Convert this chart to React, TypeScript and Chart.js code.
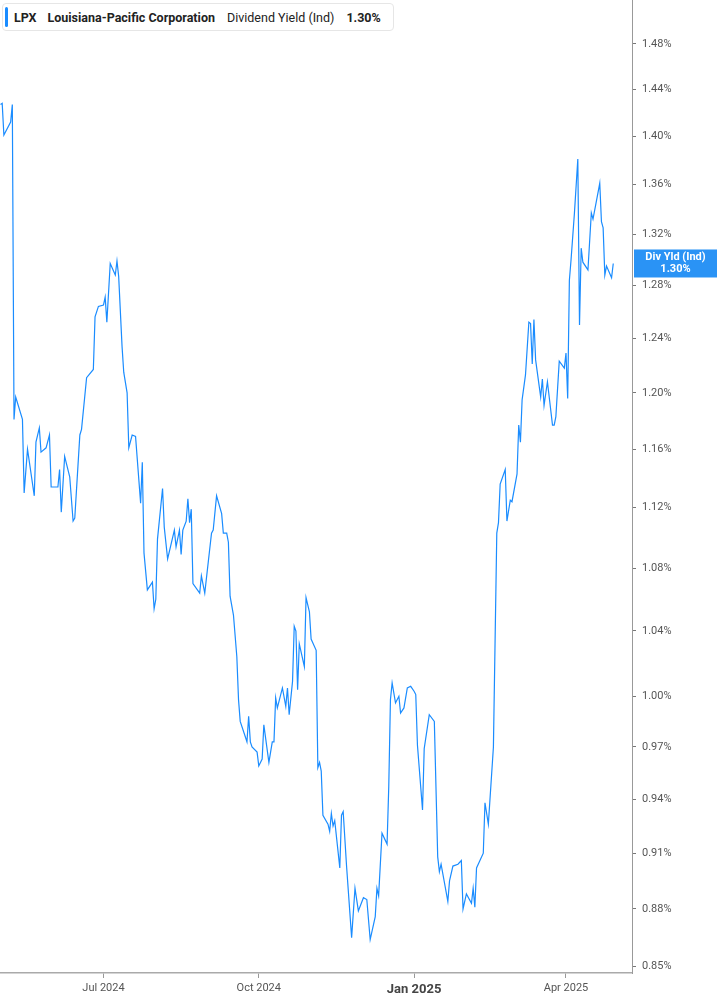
import { useEffect, useRef } from "react";
import { Chart, registerables, type Plugin } from "chart.js";

Chart.register(...registerables);

const TICKER = "LPX";
const COMPANY = "Louisiana-Pacific Corporation";
const METRIC = "Dividend Yield (Ind)";
const BADGE_LABEL = "Div Yld (Ind)";
const LINE_COLOR = "#1a8cff";

// dividend yield (%), one entry per vertex of the line
const dates = [
  "2024-05-01", "2024-05-02", "2024-05-03", "2024-05-07", "2024-05-08", "2024-05-09", "2024-05-10", "2024-05-14", "2024-05-15", "2024-05-17",
  "2024-05-21", "2024-05-22", "2024-05-24", "2024-05-25", "2024-05-28", "2024-05-30", "2024-05-31", "2024-06-04", "2024-06-05", "2024-06-06",
  "2024-06-08", "2024-06-11", "2024-06-13", "2024-06-14", "2024-06-17", "2024-06-18", "2024-06-21", "2024-06-25", "2024-06-26", "2024-06-28",
  "2024-07-01", "2024-07-02", "2024-07-03", "2024-07-05", "2024-07-08", "2024-07-09", "2024-07-10", "2024-07-12", "2024-07-13", "2024-07-15",
  "2024-07-16", "2024-07-18", "2024-07-20", "2024-07-23", "2024-07-24", "2024-07-25", "2024-07-27", "2024-07-30", "2024-07-31", "2024-08-01",
  "2024-08-02", "2024-08-05", "2024-08-06", "2024-08-08", "2024-08-12", "2024-08-13", "2024-08-15", "2024-08-16", "2024-08-17", "2024-08-19",
  "2024-08-20", "2024-08-21", "2024-08-22", "2024-08-23", "2024-08-27", "2024-08-28", "2024-08-30", "2024-09-03", "2024-09-04", "2024-09-06",
  "2024-09-09", "2024-09-10", "2024-09-12", "2024-09-13", "2024-09-14", "2024-09-16", "2024-09-18", "2024-09-19", "2024-09-20", "2024-09-24",
  "2024-09-25", "2024-09-26", "2024-09-27", "2024-09-30", "2024-10-01", "2024-10-03", "2024-10-04", "2024-10-07", "2024-10-09", "2024-10-10",
  "2024-10-11", "2024-10-12", "2024-10-15", "2024-10-17", "2024-10-18", "2024-10-19", "2024-10-21", "2024-10-22", "2024-10-23", "2024-10-24",
  "2024-10-25", "2024-10-28", "2024-10-29", "2024-10-31", "2024-11-01", "2024-11-04", "2024-11-05", "2024-11-06", "2024-11-07", "2024-11-08",
  "2024-11-11", "2024-11-12", "2024-11-13", "2024-11-14", "2024-11-15", "2024-11-18", "2024-11-19", "2024-11-20", "2024-11-22", "2024-11-25",
  "2024-11-27", "2024-11-29", "2024-12-02", "2024-12-04", "2024-12-06", "2024-12-09", "2024-12-10", "2024-12-11", "2024-12-13", "2024-12-16",
  "2024-12-17", "2024-12-18", "2024-12-19", "2024-12-21", "2024-12-23", "2024-12-24", "2024-12-26", "2024-12-28", "2024-12-30", "2025-01-01",
  "2025-01-02", "2025-01-03", "2025-01-06", "2025-01-07", "2025-01-10", "2025-01-13", "2025-01-15", "2025-01-16", "2025-01-17", "2025-01-21",
  "2025-01-22", "2025-01-24", "2025-01-27", "2025-01-29", "2025-01-30", "2025-02-01", "2025-02-04", "2025-02-05", "2025-02-06", "2025-02-07",
  "2025-02-11", "2025-02-12", "2025-02-14", "2025-02-17", "2025-02-19", "2025-02-20", "2025-02-21", "2025-02-24", "2025-02-25", "2025-02-27",
  "2025-02-28", "2025-03-03", "2025-03-04", "2025-03-05", "2025-03-06", "2025-03-08", "2025-03-10", "2025-03-11", "2025-03-12", "2025-03-13",
  "2025-03-14", "2025-03-17", "2025-03-18", "2025-03-19", "2025-03-21", "2025-03-24", "2025-03-25", "2025-03-26", "2025-03-28", "2025-03-31",
  "2025-04-01", "2025-04-02", "2025-04-03", "2025-04-04", "2025-04-06", "2025-04-08", "2025-04-09", "2025-04-10", "2025-04-11", "2025-04-14",
  "2025-04-16", "2025-04-17", "2025-04-21", "2025-04-22", "2025-04-23", "2025-04-24", "2025-04-25", "2025-04-28", "2025-04-29",
];

const yields = [
  1.427, 1.428, 1.401, 1.412, 1.427, 1.181, 1.197, 1.181, 1.130, 1.160,
  1.128, 1.165, 1.175, 1.158, 1.161, 1.170, 1.134, 1.134, 1.146, 1.117,
  1.155, 1.141, 1.111, 1.113, 1.170, 1.174, 1.211, 1.217, 1.256, 1.264,
  1.265, 1.271, 1.252, 1.297, 1.288, 1.299, 1.287, 1.234, 1.215, 1.200,
  1.161, 1.170, 1.169, 1.123, 1.151, 1.090, 1.066, 1.071, 1.054, 1.060,
  1.099, 1.133, 1.107, 1.086, 1.105, 1.094, 1.105, 1.089, 1.105, 1.111,
  1.126, 1.110, 1.119, 1.070, 1.064, 1.075, 1.064, 1.103, 1.105, 1.128,
  1.116, 1.103, 1.103, 1.097, 1.062, 1.050, 1.024, 0.998, 0.985, 0.973,
  0.988, 0.973, 0.970, 0.967, 0.959, 0.963, 0.983, 0.961, 0.973, 0.973,
  0.999, 0.993, 1.005, 0.994, 1.005, 0.989, 1.009, 1.043, 1.040, 1.004,
  1.032, 1.018, 1.061, 1.052, 1.035, 1.028, 0.958, 0.961, 0.956, 0.931,
  0.926, 0.922, 0.932, 0.925, 0.928, 0.902, 0.931, 0.933, 0.903, 0.865,
  0.891, 0.879, 0.886, 0.885, 0.864, 0.876, 0.891, 0.887, 0.921, 0.915,
  0.947, 0.998, 1.008, 0.996, 1.000, 0.990, 0.993, 1.005, 1.006, 1.003,
  1.001, 0.971, 0.934, 0.969, 0.989, 0.985, 0.908, 0.900, 0.904, 0.884,
  0.895, 0.903, 0.904, 0.906, 0.880, 0.888, 0.883, 0.891, 0.881, 0.902,
  0.910, 0.938, 0.926, 0.970, 1.103, 1.110, 1.136, 1.146, 1.111, 1.125,
  1.124, 1.143, 1.177, 1.165, 1.195, 1.213, 1.252, 1.251, 1.221, 1.254,
  1.224, 1.197, 1.210, 1.191, 1.208, 1.177, 1.177, 1.183, 1.223, 1.218,
  1.229, 1.196, 1.284, 1.300, 1.337, 1.381, 1.250, 1.309, 1.298, 1.292,
  1.337, 1.332, 1.361, 1.330, 1.325, 1.288, 1.295, 1.286, 1.297,
];

const yTicks = [0.85, 0.88, 0.91, 0.94, 0.97, 1.0, 1.04, 1.08, 1.12, 1.16, 1.2, 1.24, 1.28, 1.32, 1.36, 1.4, 1.44, 1.48];
const xTickDates = ["2024-07-01", "2024-10-01", "2025-01-01", "2025-04-01"];
const xTickLabels = ["Jul 2024", "Oct 2024", "Jan 2025", "Apr 2025"];
const boldXTick = "Jan 2025";

const dayNum = (d: string) => Date.parse(d + "T00:00:00Z") / 86400000;
const xTickValues = xTickDates.map(dayNum);
const labelFor = (v: number) => xTickLabels[xTickValues.indexOf(v)] ?? "";

const lastValueBadge: Plugin<"line"> = {
  id: "lastValueBadge",
  afterDraw(chart) {
    const { ctx, chartArea } = chart;
    const last = yields[yields.length - 1];
    const y = chart.scales.y.getPixelForValue(last);
    const left = chartArea.right + 2;
    const w = chart.width - left;
    const h = 28;
    ctx.save();
    ctx.fillStyle = "#2a93f5";
    ctx.fillRect(left, y - h / 2, w, h);
    ctx.fillStyle = "#fff";
    ctx.font = "bold 11px Roboto";
    ctx.textAlign = "center";
    ctx.textBaseline = "middle";
    ctx.fillText(BADGE_LABEL, left + w / 2, y - 6);
    ctx.fillText(`${last.toFixed(2)}%`, left + w / 2, y + 6);
    ctx.restore();
  },
};

function YieldChart() {
  const canvasRef = useRef<HTMLCanvasElement>(null);

  useEffect(() => {
    const canvas = canvasRef.current;
    if (!canvas) return;

    const chart = new Chart(canvas, {
      type: "line",
      data: {
        datasets: [
          {
            data: dates.map((d, i) => ({ x: dayNum(d), y: yields[i] })),
            borderColor: LINE_COLOR,
            borderWidth: 1.2,
            pointRadius: 0,
            tension: 0,
            fill: false,
          },
        ],
      },
      options: {
        responsive: false,
        animation: false,
        events: [],
        layout: { padding: 0 },
        plugins: { legend: { display: false }, tooltip: { enabled: false } },
        scales: {
          x: {
            type: "linear",
            min: dayNum("2024-05-01") - 0.3,
            max: dayNum("2025-05-10") + 0.1,
            afterBuildTicks: (scale) => {
              scale.ticks = xTickValues.map((value) => ({ value }));
            },
            afterFit: (scale) => {
              scale.height = 32;
              scale.paddingLeft = 0;
              scale.paddingRight = 0;
            },
            border: { display: true, color: "#aaa", width: 1.5 },
            grid: { drawOnChartArea: false, drawTicks: true, tickLength: 5, color: "#999" },
            ticks: {
              autoSkip: false,
              maxRotation: 0,
              padding: 4,
              callback: (v) => labelFor(Number(v)),
              color: (c) => (c.tick && labelFor(c.tick.value) === boldXTick ? "#444" : "#555"),
              font: (c) =>
                c.tick && labelFor(c.tick.value) === boldXTick
                  ? { family: "Roboto", size: 13, weight: "bold" }
                  : { family: "Roboto", size: 11, weight: "normal" },
            },
          },
          y: {
            type: "logarithmic",
            position: "right",
            min: 0.8468,
            max: 1.5195,
            afterBuildTicks: (scale) => {
              scale.ticks = yTicks.map((value) => ({ value }));
            },
            afterFit: (scale) => {
              scale.width = 85;
              scale.paddingTop = 0;
              scale.paddingBottom = 0;
            },
            border: { display: true, color: "#999", width: 1 },
            grid: { drawOnChartArea: false, drawTicks: true, tickLength: 4, color: "#777" },
            ticks: {
              autoSkip: false,
              padding: 6,
              color: "#555",
              font: { family: "Roboto", size: 11 },
              callback: (v) => `${Number(v).toFixed(2)}%`,
            },
          },
        },
      },
      plugins: [lastValueBadge],
    });

    return () => chart.destroy();
  }, []);

  return <canvas ref={canvasRef} width={717} height={1005} style={{ display: "block" }} />;
}

export default function App() {
  useEffect(() => {
    document.body.style.margin = "0";
  }, []);

  const last = yields[yields.length - 1];

  return (
    <div style={{ position: "relative", width: 717, height: 1005, background: "#fff" }}>
      <YieldChart />
      <div
        style={{
          position: "absolute",
          left: 2,
          top: 3,
          height: 28,
          display: "flex",
          alignItems: "center",
          boxSizing: "border-box",
          padding: "0 12px 0 11px",
          background: "#fff",
          border: "1px solid #e6e6e6",
          borderRadius: 4,
          fontFamily: "Roboto",
          fontSize: 12.5,
          fontWeight: 700,
          color: "#222",
          whiteSpace: "nowrap",
        }}
      >
        <span
          style={{
            position: "absolute",
            left: 2,
            top: 3,
            bottom: 3,
            width: 3,
            borderRadius: 2,
            background: LINE_COLOR,
          }}
        />
        <span>{TICKER}</span>
        <span style={{ marginLeft: 11 }}>{COMPANY}</span>
        <span style={{ marginLeft: 12, fontWeight: 400 }}>{METRIC}</span>
        <span style={{ marginLeft: 12 }}>{`${last.toFixed(2)}%`}</span>
      </div>
    </div>
  );
}
